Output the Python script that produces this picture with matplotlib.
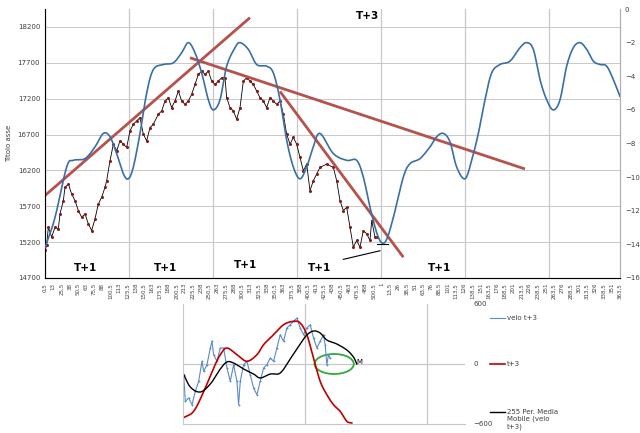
import matplotlib
matplotlib.use("Agg")
import matplotlib.pyplot as plt
from matplotlib.patches import Ellipse
import numpy as np

# ---- main chart data (x in chart-position units) ----
price_x = [135,140,145,155,165,175,180,190,195,205,215,225,235,245,255,265,275,285,295,305,315,320,330,340,350,360,370,380,390,400,410,420,430,440,450,460,475,485,495,505,515,525,535,545,555,565,575,585,595,605,615,625,635,645,655,665,675,680,690,700,710,720,730,740,750,760,770,780,790,800,810,820,830,840,850,860,870,880,890,900,910,920,930,940,950,960,980,1000,1010,1020,1030,1040,1050,1060,1070,1080,1090,1100,1110,1115,1125,1130]
price = [15084,15154,15408,15270,15408,15385,15593,15779,15964,16010,15871,15779,15640,15547,15593,15455,15362,15525,15732,15825,15964,16057,16334,16566,16473,16612,16566,16520,16751,16844,16890,16936,16705,16612,16797,16844,16983,17029,17168,17214,17075,17168,17306,17168,17121,17168,17260,17399,17538,17585,17538,17585,17445,17399,17445,17492,17492,17214,17075,17029,16913,17075,17445,17492,17445,17399,17306,17214,17168,17075,17214,17168,17121,17168,16983,16705,16566,16659,16566,16380,16195,16288,15918,16057,16149,16242,16288,16242,16057,15779,15640,15686,15408,15130,15223,15130,15362,15316,15223,15501,15270,15270]
wave_x = [135,165,200,220,255,285,310,330,350,370,385,400,420,440,460,490,520,545,565,585,605,625,640,660,680,705,720,745,770,800,820,840,860,880,900,920,940,960,1000,1040,1070,1090,1110,1130,1145,1160,1180,1210,1230,1260,1290,1310,1330,1350,1370,1395,1415,1435,1455,1475,1500,1530,1560,1580,1600,1620,1640,1660,1680,1700,1720,1740,1760,1780,1800,1820,1840,1860]
wave = [-14.2,-12.4,-9.4,-9.0,-8.9,-8.2,-7.4,-7.6,-8.6,-9.8,-10.1,-9.4,-7.4,-5.0,-3.6,-3.3,-3.2,-2.6,-2.0,-2.6,-3.8,-5.4,-6.0,-5.4,-3.4,-2.3,-2.0,-2.4,-3.3,-3.4,-3.8,-5.4,-7.8,-9.4,-10.1,-9.4,-8.2,-7.4,-8.6,-9.0,-9.0,-10.0,-11.8,-13.3,-13.9,-13.7,-12.4,-10.0,-9.2,-8.9,-8.2,-7.6,-7.4,-7.9,-9.4,-10.1,-9.0,-7.4,-5.4,-3.8,-3.3,-3.1,-2.3,-2.0,-2.4,-4.2,-5.4,-6.0,-5.4,-3.4,-2.3,-2.0,-2.4,-3.1,-3.3,-3.4,-4.2,-5.2]
labels1 = [str(v).replace('.0', '').replace('.5', ',5') for v in np.arange(0.5, 501, 12.5)]
labels2 = [str(v).replace('.0', '').replace('.5', ',5') for v in np.arange(1, 364, 12.5)]
xlabels = labels1 + labels2
# trend lines endpoints in (x, left-axis value)
trends = [((135, 15850), (750, 18330)), ((570, 17770), (1575, 16220)), ((840, 17300), (1210, 14990))]
support = [((1030, 14960), (1140, 15080)), ((1130, 15170), (1165, 15170))]

# ---- lower chart data ----
velo_x = [68,70,75,85,95,105,115,125,130,140,150,155,160,170,180,190,200,210,220,230,235,240,250,260,270,280,290,300,310,320,330,340,350,360,370,380,390,400,410,420,430,440,450,460,470,480,490,495,500,505,510]
velo = [-307,-107,-373,-340,-407,-273,-173,27,-73,-7,160,227,93,27,160,160,-40,-173,-7,-173,-407,-173,-7,27,-107,-240,-307,-173,-40,-7,60,27,160,293,227,360,393,427,460,360,293,360,393,260,160,227,293,193,-7,93,60]
t3_x = [68,100,130,160,180,200,230,260,290,310,340,370,400,420,440,460,480,500,520,540,560,575]
t3 = [-540,-473,-277,-40,93,160,93,27,93,193,293,393,427,410,293,60,-173,-307,-407,-473,-573,-590]
mm_x = [68,90,120,150,180,200,220,250,280,300,330,360,390,420,440,460,480,500,530,560,580,590]
mm = [-90,-230,-280,-200,-50,20,10,-50,-100,-140,-100,-90,50,200,290,330,310,240,200,140,70,0]


def smooth(xs, ys, n=12):
    """Catmull-Rom rendering of a polyline (like Excel's smoothed line)."""
    x = np.asarray(xs, float); y = np.asarray(ys, float)
    xp = np.concatenate([[2*x[0]-x[1]], x, [2*x[-1]-x[-2]]])
    yp = np.concatenate([[2*y[0]-y[1]], y, [2*y[-1]-y[-2]]])
    ox, oy = [], []
    t = np.linspace(0, 1, n, endpoint=False)
    for i in range(1, len(xp)-2):
        for arr, out in ((xp, ox), (yp, oy)):
            p0, p1, p2, p3 = arr[i-1:i+3]
            out.extend(0.5*((2*p1) + (-p0+p2)*t + (2*p0-5*p1+4*p2-p3)*t**2 + (-p0+3*p1-3*p2+p3)*t**3))
    ox.append(x[-1]); oy.append(y[-1])
    return ox, oy


fig = plt.figure(figsize=(6.4, 4.33), dpi=100)
fig.patch.set_facecolor('white')

ax = fig.add_axes([45/640, 1-278/433, (620-45)/640, (278-9)/433])
ax.set_xlim(135, 1860)
ax.set_ylim(14700, 18450)
ax.set_yticks(np.arange(14700, 18201, 500))
ax.tick_params(labelsize=5, length=0, colors='#404040')
ax.set_ylabel('Titolo asse', fontsize=5, color='#404040')
for g in np.arange(14700, 18201, 500):
    ax.axhline(g, color='#c8c8c8', lw=0.7, zorder=0)
for g in range(135, 1860, 252):
    ax.axvline(g, color='#c8c8c8', lw=0.9, zorder=0)
ticks = np.linspace(135, 1860, len(xlabels))
ax.set_xticks(ticks)
ax.set_xticklabels(xlabels, rotation=90, fontsize=4)
ax.spines['top'].set_visible(False)
for s in ['left', 'bottom', 'right']:
    ax.spines[s].set_color('#b0b0b0')

ax.plot(price_x, price, color='black', lw=0.6, marker='o', ms=1.2, mfc='#8b1a1a', mec='#8b1a1a', zorder=3)
for (a, b) in trends:
    ax.plot([a[0], b[0]], [a[1], b[1]], color='#b5524c', lw=2, zorder=4, solid_capstyle='butt')
for (a, b) in support:
    ax.plot([a[0], b[0]], [a[1], b[1]], color='black', lw=0.8, zorder=4)

ax2 = ax.twinx()
ax2.set_ylim(-16, 0)
ax2.set_yticks(np.arange(-16, 1, 2))
ax2.tick_params(labelsize=5, length=0, colors='#404040')
sx, sy = smooth(wave_x, wave)
ax2.plot(sx, sy, color='#3a6fa6', lw=1.2, zorder=3)
ax2.spines['top'].set_visible(False)
ax2.spines['right'].set_color('#b0b0b0')

for (tx, ty) in [(85, 268), (165, 268), (246, 265), (320, 268), (440, 268)]:
    fig.text(tx/640, 1-ty/433, 'T+1', fontsize=7.5, fontweight='bold', ha='center', va='center')
fig.text(367/640, 1-16/433, 'T+3', fontsize=7.5, fontweight='bold', ha='center', va='center')

# lower chart
bx = fig.add_axes([183/640, 1-424/433, (465-183)/640, (424-304)/433])
bx.set_xlim(68, 915)
bx.set_ylim(-600, 600)
bx.yaxis.tick_right()
bx.set_yticks([-600, 0, 600])
bx.tick_params(labelsize=5, length=0, colors='#404040', pad=6)
bx.set_xticks([])
for g in [435, 800]:
    bx.axvline(g, color='#c8c8c8', lw=0.9, zorder=0)
bx.axhline(0, color='#c8c8c8', lw=0.9, zorder=0)
for s in ['top', 'right']:
    bx.spines[s].set_visible(False)
for s in ['left', 'bottom']:
    bx.spines[s].set_color('#c8c8c8')
bx.plot(velo_x, velo, color='#5b8ac6', lw=0.8, marker='+', ms=2, mew=0.6)
rx, ry = smooth(t3_x, t3)
bx.plot(rx, ry, color='#c00000', lw=1.2)
kx, ky = smooth(mm_x, mm)
bx.plot(kx, ky, color='black', lw=1.0)
bx.add_patch(Ellipse((522, 0), 118, 200, fill=False, edgecolor='#2eaa3c', lw=1.3))
bx.text(590, 15, 'M', fontsize=5, va='center')

fig.lines.append(plt.Line2D([490/640, 505/640], [1-318/433]*2, color='#5b8ac6', lw=0.8, transform=fig.transFigure))
fig.lines.append(plt.Line2D([490/640, 505/640], [1-364/433]*2, color='#c00000', lw=1.2, transform=fig.transFigure))
fig.lines.append(plt.Line2D([490/640, 505/640], [1-412/433]*2, color='black', lw=1.0, transform=fig.transFigure))
fig.text(507/640, 1-318/433, 'velo t+3', fontsize=5, va='center', color='#404040')
fig.text(507/640, 1-364/433, 't+3', fontsize=5, va='center', color='#404040')
fig.text(507/640, 1-419/433, '255 Per. Media\nMobile (velo\nt+3)', fontsize=5, va='center', color='#404040')

fig.savefig('out.png', dpi=100)
